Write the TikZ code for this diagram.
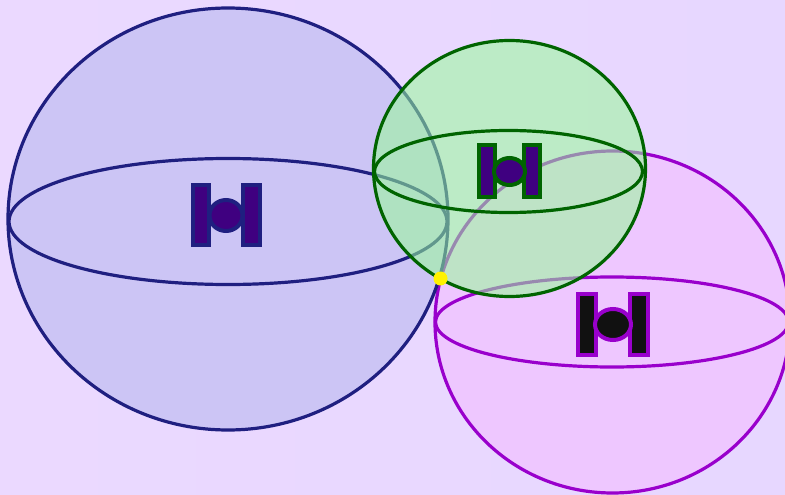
\documentclass[tikz,border=0pt]{standalone}
\definecolor{bgl}{HTML}{EBD9FF}
\definecolor{bgr}{HTML}{E7D7FF}
\definecolor{blueline}{HTML}{1F1F80}
\definecolor{bluefill}{HTML}{CCC5F5}
\definecolor{greenline}{HTML}{006400}
\definecolor{greenfill}{HTML}{98FB98}
\definecolor{purpleline}{HTML}{9900CC}
\definecolor{purplefill}{HTML}{EEC7FF}
\definecolor{indigofill}{HTML}{3F0080}
\definecolor{darkfill}{HTML}{111111}
\tikzset{
  sphereline/.style={line width=3.2pt},
  partline/.style={line width=4pt}
}
\begin{document}
\begin{tikzpicture}[x=1pt,y=-1pt]
\useasboundingbox (0,0) rectangle (785,495);
\shade[left color=bgl,right color=bgr] (0,0) rectangle (785,495);
% purple sphere
\draw[sphereline,draw=purpleline,fill=purplefill] (612.5,322) ellipse [x radius=177.5,y radius=171];
\draw[sphereline,draw=purpleline] (612,322) ellipse [x radius=176.5,y radius=45];
% purple fighter
\draw[partline,draw=purpleline,fill=darkfill] (578,293.5) rectangle (596,355);
\draw[partline,draw=purpleline,fill=darkfill] (630,293.5) rectangle (648,355);
\draw[partline,draw=purpleline,fill=darkfill] (613,324.5) ellipse [x radius=18,y radius=15.5];
% blue sphere
\draw[sphereline,draw=blueline,fill=bluefill] (228,219) ellipse [x radius=220,y radius=211];
\draw[sphereline,draw=blueline] (228,221.5) ellipse [x radius=219,y radius=63];
% blue fighter
\draw[partline,draw=blueline,fill=indigofill] (192.5,185) rectangle (209,245);
\draw[partline,draw=blueline,fill=indigofill] (243,185) rectangle (260,245);
\draw[partline,draw=blueline,fill=indigofill] (226,215.5) ellipse [x radius=16.5,y radius=15.5];
% green sphere
\draw[sphereline,draw=greenline,fill=greenfill,fill opacity=0.55] (509.5,168.5) ellipse [x radius=136,y radius=128];
\draw[sphereline,draw=greenline] (508.5,171.5) ellipse [x radius=134,y radius=41];
% green fighter
\draw[partline,draw=greenline,fill=indigofill] (479,145) rectangle (495,197);
\draw[partline,draw=greenline,fill=indigofill] (524,145) rectangle (540,197);
\draw[partline,draw=greenline,fill=indigofill] (509.5,171.5) ellipse [x radius=15.5,y radius=13.5];
% yellow point
\fill[yellow] (440.5,278.5) circle [radius=7];
\end{tikzpicture}
\end{document}
